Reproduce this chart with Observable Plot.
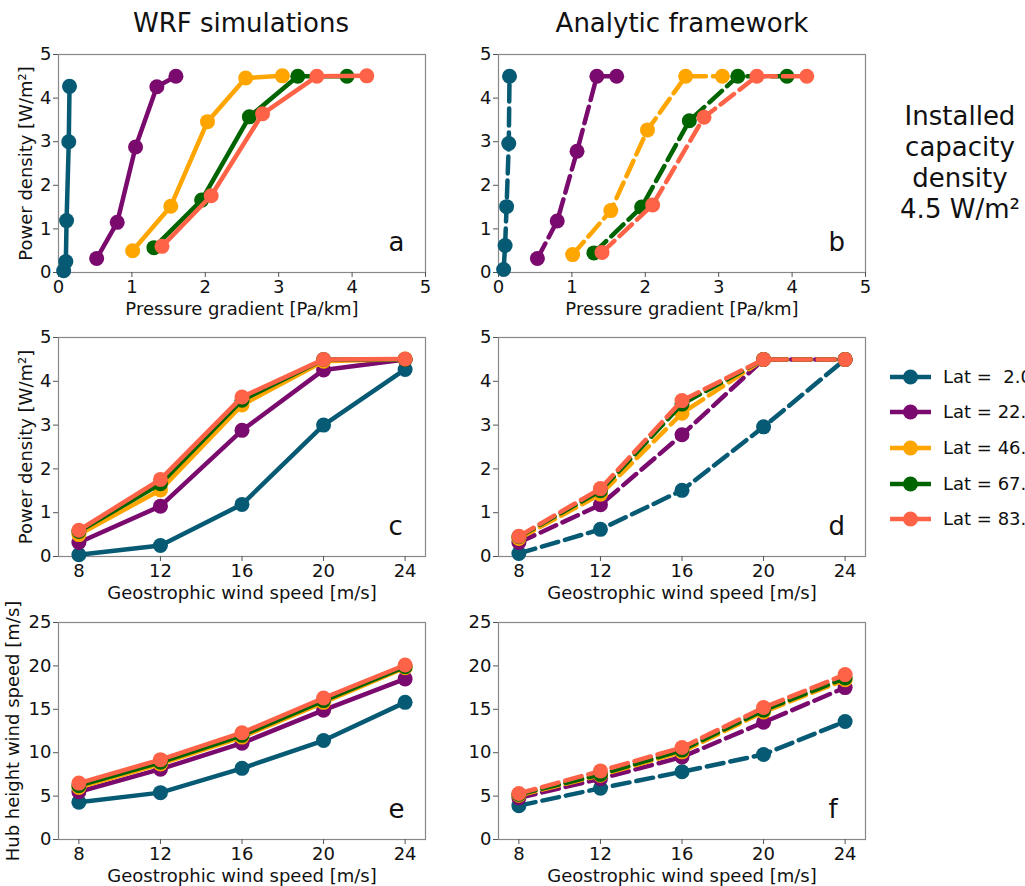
<!DOCTYPE html>
<html><head><meta charset="utf-8">
<script src="https://cdn.jsdelivr.net/npm/d3@7"></script>
<script src="https://cdn.jsdelivr.net/npm/@observablehq/plot@0.6"></script>
<style>
body{margin:0;background:#fff;}
#root{position:relative;width:1025px;height:886px;overflow:hidden;font-family:"DejaVu Sans",sans-serif;color:#111;background:#fff;}
</style></head><body><div id="root"></div>
<script>
// ---- data ----
const geoWind = [8, 12, 16, 20, 24];
const latLabels = ["Lat =  2.0", "Lat = 22.5", "Lat = 46.0", "Lat = 67.5", "Lat = 83.0"];
const colors = ["#065a73", "#7a0a6e", "#ffa500", "#006400", "tomato"];
const pressureTicks = [0, 1, 2, 3, 4, 5];
const powerTicks = [0, 1, 2, 3, 4, 5];
const windTicks = [8, 12, 16, 20, 24];
const hubTicks = [0, 5, 10, 15, 20, 25];

// WRF simulations
const wrfPressure = [
  [0.07, 0.10, 0.11, 0.14, 0.15],
  [0.52, 0.80, 1.05, 1.34, 1.60],
  [1.01, 1.53, 2.03, 2.55, 3.05],
  [1.30, 1.95, 2.60, 3.26, 3.93],
  [1.41, 2.08, 2.78, 3.52, 4.20]];
const wrfPower = [
  [0.04, 0.25, 1.19, 3.00, 4.27],
  [0.32, 1.15, 2.88, 4.26, 4.50],
  [0.50, 1.52, 3.46, 4.46, 4.51],
  [0.57, 1.66, 3.57, 4.50, 4.50],
  [0.60, 1.76, 3.64, 4.50, 4.51]];
const wrfHub = [
  [4.3, 5.4, 8.2, 11.4, 15.8],
  [5.5, 8.1, 11.1, 14.9, 18.5],
  [6.0, 8.7, 11.8, 15.8, 19.8],
  [6.2, 8.9, 12.0, 16.0, 19.9],
  [6.5, 9.2, 12.3, 16.3, 20.1]];

// Analytic framework
const anaPressure = [
  [0.07, 0.09, 0.11, 0.14, 0.15],
  [0.53, 0.80, 1.07, 1.34, 1.61],
  [1.01, 1.53, 2.03, 2.55, 3.05],
  [1.30, 1.95, 2.60, 3.26, 3.93],
  [1.41, 2.10, 2.80, 3.52, 4.20]];
const anaPower = [
  [0.07, 0.62, 1.51, 2.96, 4.50],
  [0.32, 1.18, 2.78, 4.50, 4.50],
  [0.41, 1.42, 3.27, 4.50, 4.50],
  [0.45, 1.50, 3.48, 4.50, 4.50],
  [0.46, 1.55, 3.56, 4.50, 4.50]];
const anaHub = [
  [3.9, 5.9, 7.8, 9.8, 13.6],
  [4.8, 7.0, 9.5, 13.5, 17.5],
  [5.1, 7.4, 10.1, 14.7, 18.4],
  [5.2, 7.5, 10.3, 14.9, 18.6],
  [5.3, 7.9, 10.6, 15.2, 19.0]];

const root = document.getElementById("root");
function place(node, left, top) {
  node.style.position = "absolute";
  node.style.left = left + "px";
  node.style.top = top + "px";
  root.appendChild(node);
}

function makePanel(o) {
  const marks = [];
  for (let i = 0; i < 5; i++) {
    const xs = o.xs ? o.xs[i] : geoWind;
    const data = xs.map((x, j) => ({x, y: o.ys[i][j]}));
    marks.push(Plot.line(data, {x: "x", y: "y", stroke: colors[i], strokeWidth: 4.5,
      strokeDasharray: o.dashed ? "17,7" : null, strokeLinejoin: "round"}));
    marks.push(Plot.dot(data, {x: "x", y: "y", r: 7.5, fill: colors[i], stroke: "none"}));
  }
  const frameH = o.frameH;
  return Plot.plot({
    width: 440, height: 24 + frameH + 48,
    marginLeft: 58, marginRight: 15, marginTop: 24, marginBottom: 48,
    style: {fontFamily: "DejaVu Sans", fontSize: "18px", background: "transparent", overflow: "visible", color: "#111"},
    x: {domain: o.xDomain},
    y: {domain: o.yDomain},
    marks: [
      Plot.frame({stroke: "#888", strokeWidth: 1.2}),
      Plot.axisX({ticks: o.xTicks, tickSize: 5, tickPadding: 3, tickFormat: d => String(d),
        label: o.xLabel, labelAnchor: "center", labelOffset: 42, labelArrow: "none", stroke: "#555", fill: "#111"}),
      Plot.axisY({ticks: o.yTicks, tickSize: 5, tickPadding: 2, tickFormat: d => String(d),
        label: o.yLabel || null, labelAnchor: "center", labelOffset: o.yLabelOffset || 39, labelArrow: "none", stroke: "#555", fill: "#111"}),
      ...marks,
      Plot.text([o.letter], {text: d => d, frameAnchor: "bottom-left", dx: 330, dy: -30,
        fontSize: 26, lineAnchor: "middle", textAnchor: "start", fill: "#111"})
    ]
  });
}

const pgLabel = "Pressure gradient [Pa/km]";
const gwLabel = "Geostrophic wind speed [m/s]";
const pdLabel = "Power density [W/m²]";
const hubLabel = "Hub height wind speed [m/s]";

place(makePanel({xs: wrfPressure, ys: wrfPower, dashed: false, xDomain: [0, 5], yDomain: [0, 5],
  xTicks: pressureTicks, yTicks: powerTicks, xLabel: pgLabel, yLabel: pdLabel, letter: "a", frameH: 218}), 0, 30);
place(makePanel({xs: anaPressure, ys: anaPower, dashed: true, xDomain: [0, 5], yDomain: [0, 5],
  xTicks: pressureTicks, yTicks: powerTicks, xLabel: pgLabel, letter: "b", frameH: 218}), 440, 30);
place(makePanel({ys: wrfPower, dashed: false, xDomain: [7, 25], yDomain: [0, 5],
  xTicks: windTicks, yTicks: powerTicks, xLabel: gwLabel, yLabel: pdLabel, letter: "c", frameH: 219}), 0, 313);
place(makePanel({ys: anaPower, dashed: true, xDomain: [7, 25], yDomain: [0, 5],
  xTicks: windTicks, yTicks: powerTicks, xLabel: gwLabel, letter: "d", frameH: 219}), 440, 313);
place(makePanel({ys: wrfHub, dashed: false, xDomain: [7, 25], yDomain: [0, 25],
  xTicks: windTicks, yTicks: hubTicks, xLabel: gwLabel, yLabel: hubLabel, yLabelOffset: 52, letter: "e", frameH: 217}), 0, 598);
place(makePanel({ys: anaHub, dashed: true, xDomain: [7, 25], yDomain: [0, 25],
  xTicks: windTicks, yTicks: hubTicks, xLabel: gwLabel, letter: "f", frameH: 217}), 440, 598);

// ---- overlay texts & legend ----
const svg = d3.create("svg").attr("width", 1025).attr("height", 886)
  .style("position", "absolute").style("left", "0px").style("top", "0px")
  .style("font-family", "DejaVu Sans").style("pointer-events", "none");
svg.append("text").attr("x", 241).attr("y", 32).attr("text-anchor", "middle")
  .attr("font-size", 26).attr("fill", "#111").text("WRF simulations");
svg.append("text").attr("x", 682).attr("y", 32).attr("text-anchor", "middle")
  .attr("font-size", 26).attr("fill", "#111").text("Analytic framework");
const capLines = ["Installed", "capacity", "density", "4.5 W/m²"];
const capBaselines = [125, 156, 187, 218];
capLines.forEach((t, i) => svg.append("text").attr("x", 960).attr("y", capBaselines[i])
  .attr("text-anchor", "middle").attr("font-size", 26).attr("fill", "#111").text(t));
const legendRows = [377, 412, 448, 484, 519];
latLabels.forEach((t, i) => {
  const g = svg.append("g").attr("transform", `translate(0,${legendRows[i]})`);
  g.append("line").attr("x1", 890).attr("x2", 931).attr("y1", 0).attr("y2", 0)
    .attr("stroke", colors[i]).attr("stroke-width", 4.5);
  g.append("circle").attr("cx", 910.5).attr("cy", 0).attr("r", 7.5).attr("fill", colors[i]);
  g.append("text").attr("x", 943).attr("y", 0).attr("dy", "0.35em").attr("font-size", 18)
    .attr("fill", "#111").style("white-space", "pre").text(t);
});
root.appendChild(svg.node());
</script>
</body></html>
